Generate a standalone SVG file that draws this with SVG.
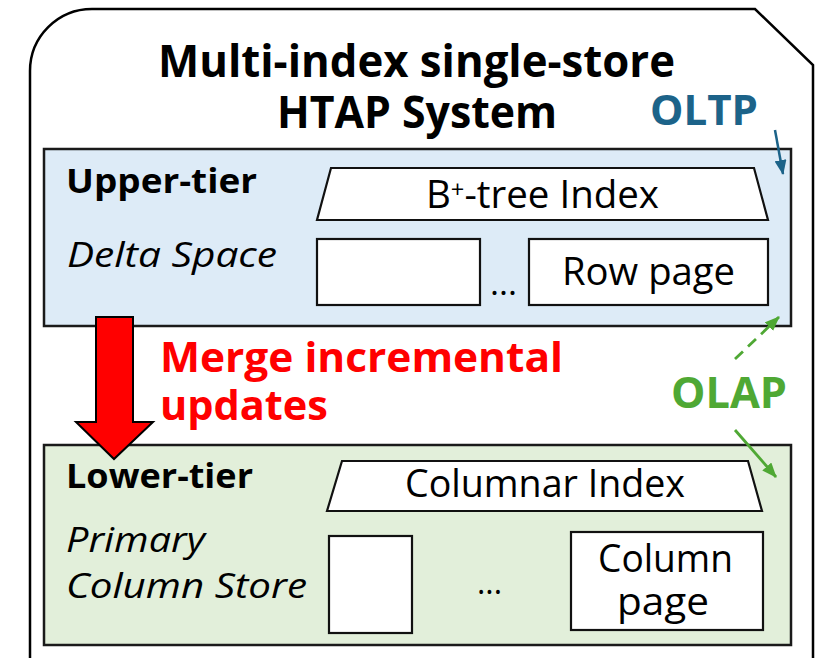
<svg xmlns="http://www.w3.org/2000/svg" width="820" height="658" viewBox="0 0 820 658">
  <style>
    text { font-family: "Open Sans", "Noto Sans", "DejaVu Sans", sans-serif; fill: #000; }
    .bold { font-weight: bold; }
    .ital { font-style: italic; }
    .frame { fill: #fff; stroke: #000; stroke-width: 2.5; }
    .tier { stroke: #1a1a1a; stroke-width: 2.5; }
    .upper { fill: #ddebf7; }
    .lower { fill: #e2efda; }
    .cell { fill: #fff; stroke: #111; stroke-width: 2.2; }
    .oltp { stroke: #1c6389; stroke-width: 2.5; fill: none; }
    .olap { stroke: #4fa834; stroke-width: 2.8; fill: none; }
  </style>
  <defs>
    <marker id="headTeal" markerUnits="userSpaceOnUse" markerWidth="16" markerHeight="12" refX="14" refY="6" orient="auto">
      <path d="M0,0 L15,6 L0,12 z" fill="#1c6389"/>
    </marker>
    <marker id="headGreen" markerUnits="userSpaceOnUse" markerWidth="16" markerHeight="12" refX="14" refY="6" orient="auto">
      <path d="M0,0 L15,6 L0,12 z" fill="#4fa834"/>
    </marker>
  </defs>

  <rect width="820" height="658" fill="#fff"/>

  <!-- system frame: rounded top-left, chamfered top-right, open at the bottom -->
  <g id="system">
    <path class="frame" d="M30,672 L30,71 A62,62 0 0 1 92,9 L755,9 L813,65 L813,672"/>
    <text class="bold" font-size="44"><tspan x="158" y="77" textLength="517" lengthAdjust="spacingAndGlyphs">Multi-index single-store</tspan><tspan x="277" y="128" textLength="280" lengthAdjust="spacingAndGlyphs">HTAP System</tspan></text>
  </g>

  <!-- upper tier: delta space -->
  <g id="upper-tier">
    <rect class="tier upper" x="44" y="149" width="747" height="177"/>
    <text class="bold" x="66" y="193" font-size="34" textLength="191" lengthAdjust="spacingAndGlyphs">Upper-tier</text>
    <text class="ital" x="67" y="267" font-size="34" textLength="210" lengthAdjust="spacingAndGlyphs">Delta Space</text>
  </g>

  <g id="btree-index">
    <polygon class="cell" points="331,168 754,168 768,220 317,220"/>
    <text x="426" y="208" font-size="39" textLength="233" lengthAdjust="spacingAndGlyphs">B<tspan font-size="24" dy="-10">+</tspan><tspan dy="10">-tree Index</tspan></text>
  </g>

  <g id="row-pages">
    <rect class="cell" x="317" y="239" width="163" height="66"/>
    <text x="490" y="295" font-size="32" textLength="27" lengthAdjust="spacingAndGlyphs">...</text>
    <rect class="cell" x="529" y="239" width="239" height="66"/>
    <text x="562" y="285" font-size="39" textLength="173" lengthAdjust="spacingAndGlyphs">Row page</text>
  </g>

  <!-- lower tier: primary column store -->
  <g id="lower-tier">
    <rect class="tier lower" x="44" y="445" width="747" height="200"/>
    <text class="bold" x="66" y="488" font-size="34" textLength="187" lengthAdjust="spacingAndGlyphs">Lower-tier</text>
    <text class="ital" font-size="34"><tspan x="66" y="552" textLength="139" lengthAdjust="spacingAndGlyphs">Primary</tspan><tspan x="66" y="598" textLength="241" lengthAdjust="spacingAndGlyphs">Column Store</tspan></text>
  </g>

  <g id="columnar-index">
    <polygon class="cell" points="342,461 748,461 762,511 327,511"/>
    <text x="405" y="497" font-size="38" textLength="280" lengthAdjust="spacingAndGlyphs">Columnar Index</text>
  </g>

  <g id="column-pages">
    <rect class="cell" x="329" y="536" width="83" height="97"/>
    <text x="477" y="594" font-size="32" textLength="25" lengthAdjust="spacingAndGlyphs">...</text>
    <rect class="cell" x="571" y="532" width="192" height="98"/>
    <text font-size="38"><tspan x="598" y="572" textLength="135" lengthAdjust="spacingAndGlyphs">Column</tspan><tspan x="617" y="615" textLength="92" lengthAdjust="spacingAndGlyphs">page</tspan></text>
  </g>

  <!-- merge step between the tiers -->
  <g id="merge">
    <polygon points="96,317 133,317 133,422 153,422 114,459 76,422 96,422" fill="#ff0000" stroke="#000" stroke-width="2"/>
    <text class="bold" font-size="41" style="fill:#ff0000"><tspan x="160" y="372" textLength="403" lengthAdjust="spacingAndGlyphs">Merge incremental</tspan><tspan x="160" y="420" textLength="168" lengthAdjust="spacingAndGlyphs">updates</tspan></text>
  </g>

  <!-- workload labels -->
  <g id="oltp">
    <text class="bold" x="650" y="125" font-size="42" style="fill:#1c6389" textLength="108" lengthAdjust="spacingAndGlyphs">OLTP</text>
  </g>
  <g id="olap">
    <text class="bold" x="671" y="408" font-size="43" style="fill:#4fa834" textLength="116" lengthAdjust="spacingAndGlyphs">OLAP</text>
  </g>

  <g id="connectors">
    <line class="oltp" x1="775" y1="130" x2="783" y2="174" marker-end="url(#headTeal)"/>
    <line class="olap" x1="735" y1="359" x2="779" y2="317" stroke-dasharray="11 7" marker-end="url(#headGreen)"/>
    <line class="olap" x1="735" y1="430" x2="776" y2="477" marker-end="url(#headGreen)"/>
  </g>
</svg>
